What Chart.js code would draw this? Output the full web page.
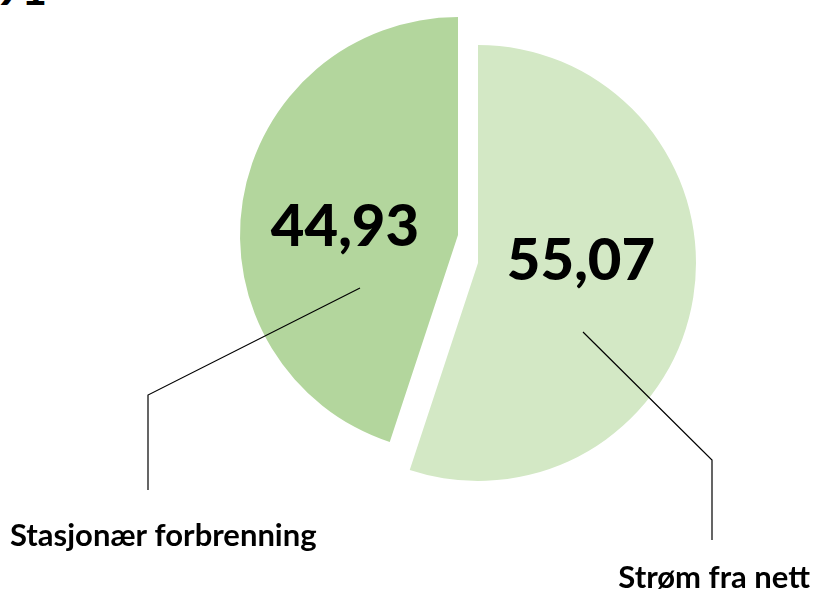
<!DOCTYPE html>
<html>
<head>
<meta charset="utf-8">
<script src="https://cdn.jsdelivr.net/npm/chart.js@4"></script>
<style>
  html, body { margin: 0; padding: 0; background: #ffffff; }
  body { width: 816px; height: 592px; overflow: hidden; position: relative; }
  #wrap { position: absolute; left: 0; top: 0; width: 816px; height: 592px; }
  #cut { position: absolute; left: -4px; top: -38px; font: 700 44px Lato, sans-serif; color: #000; }
</style>
</head>
<body>
<div id="cut">91</div>
<div id="wrap"><canvas id="c" width="816" height="592"></canvas></div>
<script>
const categories = ["Stasjonær forbrenning", "Strøm fra nett"];
const values = [44.93, 55.07];
const colors = ["#b3d69d", "#d3e8c5"];

// per-slice placement (pixels, relative to the pie centre / slice centre)
const sliceShift = [[-10, -14], [10, 14]];
const valueLabelPos = [[-113, -8], [103, -2]];
const leaderPaths = [
  [[-98, 53], [-310, 160], [-310, 255]],
  [[105, 69], [234, 197], [234, 277]]
];
const catLabelPos = [
  { x: 10, y: 546, align: "left" },
  { x: 810, y: 588, align: "right" }
];

const fmt = v => v.toFixed(2).replace(".", ",");
const total = values.reduce((a, b) => a + b, 0);

const shiftPlugin = {
  id: "shiftSlices",
  afterDatasetsUpdate(chart) {
    const meta = chart.getDatasetMeta(0);
    meta.data.forEach((arc, i) => {
      arc.x += sliceShift[i][0];
      arc.y += sliceShift[i][1];
    });
  }
};

const labelPlugin = {
  id: "sliceLabels",
  afterDatasetsDraw(chart) {
    const ctx = chart.ctx;
    const meta = chart.getDatasetMeta(0);
    ctx.save();
    meta.data.forEach((arc, i) => {
      const cx = arc.x, cy = arc.y;
      ctx.fillStyle = "#000";
      ctx.font = "900 58px Lato, sans-serif";
      ctx.textAlign = "center";
      ctx.textBaseline = "middle";
      ctx.fillText(fmt(values[i]), cx + valueLabelPos[i][0], cy + valueLabelPos[i][1]);
      ctx.strokeStyle = "#000";
      ctx.lineWidth = 1.2;
      ctx.beginPath();
      leaderPaths[i].forEach((p, k) => {
        if (k === 0) ctx.moveTo(cx + p[0], cy + p[1]);
        else ctx.lineTo(cx + p[0], cy + p[1]);
      });
      ctx.stroke();
      ctx.font = "700 31px Lato, sans-serif";
      ctx.textAlign = catLabelPos[i].align;
      ctx.textBaseline = "alphabetic";
      ctx.fillText(categories[i], catLabelPos[i].x, catLabelPos[i].y);
    });
    ctx.restore();
  }
};

new Chart(document.getElementById("c"), {
  type: "pie",
  data: {
    labels: categories,
    datasets: [{
      data: values,
      backgroundColor: colors,
      borderWidth: 0,
      offset: 0,
      hoverOffset: 0
    }]
  },
  options: {
    responsive: false,
    animation: false,
    rotation: -values[0] / total * 360,
    layout: { padding: { left: 250, right: 130, top: 31, bottom: 125 } },
    plugins: { legend: { display: false }, tooltip: { enabled: false } },
    events: []
  },
  plugins: [shiftPlugin, labelPlugin]
});
</script>
</body>
</html>
